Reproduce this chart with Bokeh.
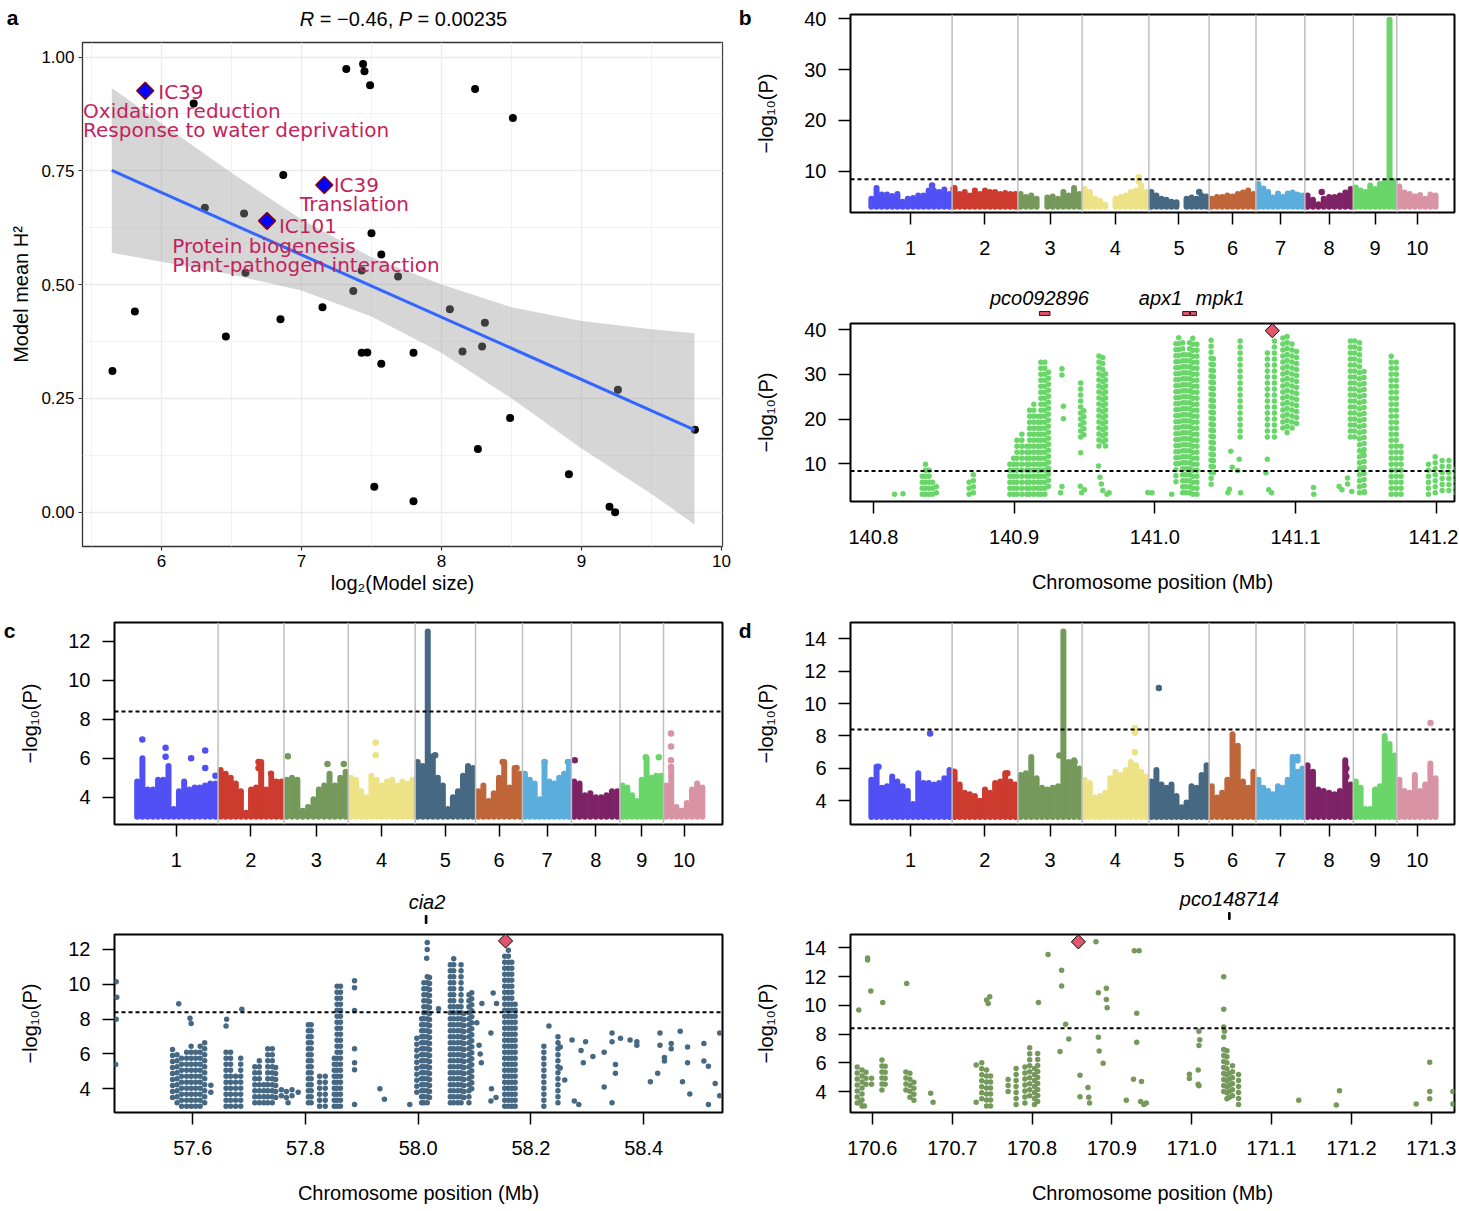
import math
from bokeh.plotting import figure
from bokeh.models import Range1d, FixedTicker, Span, PrintfTickFormatter, LinearAxis
from bokeh.layouts import row, column
from bokeh.embed import file_html
from bokeh.resources import INLINE
from bokeh.core.properties import value

# ======================= DATA =======================
# ---- panel a: model size vs mean heritability
a_log2_size = [7.32, 7.44, 7.45, 7.49, 8.24, 8.51, 6.23, 6.87, 6.31, 6.59,
               7.50, 7.57, 6.60, 7.43, 7.69, 7.37, 5.81, 6.85, 7.15, 6.46,
               8.06, 8.31, 7.43, 7.47, 7.80, 7.57, 8.15, 8.29, 5.65, 9.26,
               8.49, 9.81, 8.26, 8.91, 7.52, 7.80, 9.20, 9.24]
a_h2 = [0.974, 0.985, 0.969, 0.938, 0.930, 0.866, 0.898, 0.741, 0.669, 0.656,
        0.613, 0.566, 0.526, 0.531, 0.518, 0.486, 0.441, 0.424, 0.450, 0.386,
        0.446, 0.416, 0.350, 0.351, 0.350, 0.326, 0.353, 0.364, 0.310, 0.269,
        0.207, 0.181, 0.139, 0.083, 0.056, 0.024, 0.012, 0.000]
hl_size = [5.884, 7.163, 6.754]
hl_h2 = [0.926, 0.719, 0.640]
hl_id = ["IC39", "IC39", "IC101"]
hl_terms = [["Oxidation reduction", "Response to water deprivation"],
            ["Translation"],
            ["Protein biogenesis", "Plant-pathogen interaction"]]
fit_x = [5.645, 9.807]
fit_y = [0.751, 0.181]
band_x = [5.645, 6.0, 6.5, 7.0, 7.5, 8.0, 8.5, 9.0, 9.5, 9.807]
band_lo = [0.570, 0.550, 0.522, 0.487, 0.430, 0.350, 0.250, 0.140, 0.040, -0.027]
band_hi = [0.932, 0.854, 0.746, 0.643, 0.560, 0.500, 0.450, 0.420, 0.402, 0.393]
a_title_parts = ["R", "= \u22120.46,", "P", "= 0.00235"]
a_xticks = [6, 7, 8, 9, 10]
a_xminor = [5.5, 6.5, 7.5, 8.5, 9.5]
a_yticks = [0.0, 0.25, 0.5, 0.75, 1.0]
a_yminor = [0.125, 0.375, 0.625, 0.875]

# ---- genome
chr_names = ["1", "2", "3", "4", "5", "6", "7", "8", "9", "10"]
chr_len = [301.5, 237.9, 232.2, 241.5, 217.9, 169.4, 176.8, 175.4, 157.0, 149.6]
chr_col = ["#5050F5", "#CC3B2E", "#74995A", "#EDE285", "#466883",
           "#BE6639", "#5BAEDB", "#7E2266", "#6AD66A", "#D894A4"]
THRESH = 8.4
BASE = 3.0

# ---- panel b genome-wide (binned upper envelope of -log10 P per chromosome)
b_chr1 = [4.6, 6.7, 5.4, 5.4, 5.1, 5.5, 4.0, 4.6, 4.7, 5.2, 5.2, 6.2, 6.2, 5.9, 6.4, 5.5]
b_chr2 = [6.7, 5.5, 5.9, 5.2, 6.2, 5.5, 6.2, 5.9, 5.9, 5.5, 5.7, 5.5, 5.5]
b_chr3 = [5.5, 4.9, 5.2, 4.6, 0, 4.8, 5.0, 4.6, 5.9, 5.2, 6.7, 5.5]
b_chr4 = [6.5, 5.9, 4.6, 4.2, 3.4, 0, 4.6, 4.9, 5.2, 5.9, 6.2, 7.2, 5.9]
b_chr5 = [5.9, 5.2, 4.6, 4.4, 4.0, 3.9, 0, 4.6, 4.8, 4.6, 5.2, 5.0]
b_chr6 = [4.6, 4.9, 4.9, 5.2, 5.0, 5.5, 5.8, 6.2, 5.5]
b_chr7 = [7.5, 6.6, 5.9, 4.8, 5.6, 4.9, 5.6, 5.8, 5.4, 5.2]
b_chr8 = [5.2, 4.4, 3.5, 4.6, 4.9, 4.9, 5.2, 5.8, 6.5]
b_chr9 = [6.8, 6.2, 5.9, 7.2, 6.5, 7.5, 7.8, 39.8, 8.0]
b_chr10 = [7.0, 5.8, 5.5, 5.0, 5.3, 4.6, 5.4, 5.2]
b_out_chr = [1, 2, 4, 4, 5, 8]
b_out_pos = [229, 5, 205, 205, 182, 61]
b_out_val = [7.2, 6.5, 8.8, 8.0, 5.9, 5.9]

# ---- panel c genome-wide
c_chr1 = [4.8, 6.0, 4.4, 4.4, 4.9, 4.9, 5.6, 3.4, 4.3, 4.8, 4.4, 4.5, 4.5, 4.6, 4.7, 4.7]
c_chr2 = [5.4, 5.2, 5.0, 4.7, 4.3, 3.2, 4.4, 4.5, 5.8, 4.4, 5.0, 4.8, 4.8]
c_chr3 = [4.9, 5.0, 4.9, 3.3, 3.5, 3.9, 4.4, 4.6, 5.2, 4.6, 5.0, 5.3]
c_chr4 = [5.0, 4.9, 4.3, 4.0, 5.1, 4.9, 4.6, 4.8, 4.9, 4.6, 4.8, 4.7, 4.9]
c_chr5 = [5.8, 5.6, 12.5, 6.1, 5.0, 4.6, 3.4, 4.0, 4.3, 5.1, 5.6, 5.5]
c_chr6 = [4.3, 4.6, 3.8, 4.2, 5.0, 5.8, 4.5, 5.5, 5.2]
c_chr7 = [5.2, 4.9, 4.7, 3.9, 5.8, 4.8, 4.7, 5.0, 5.2, 5.8]
c_chr8 = [4.8, 4.7, 4.1, 4.2, 4.0, 4.0, 4.1, 4.3, 4.3]
c_chr9 = [4.6, 4.5, 4.1, 3.8, 4.9, 6.0, 5.0, 5.1, 5.1]
c_chr10 = [4.6, 5.5, 3.5, 3.3, 3.7, 4.4, 4.7, 4.5]
c_out_chr = [1, 1, 1, 1, 1, 1, 1, 2, 2, 2, 3, 3, 3, 4, 4, 5, 6, 6, 7, 7, 8, 9, 9, 10, 10, 10, 10]
c_out_pos = [28, 112, 112, 204, 255, 255, 292, 146, 146, 191, 14, 157, 216, 99, 99, 72,
             98, 148, 80, 164, 12, 93, 140, 27, 27, 27, 27]
c_out_val = [6.96, 6.53, 6.07, 6.0, 6.4, 5.5, 5.1, 5.8, 5.5, 5.2, 6.1, 5.7, 5.7, 6.8, 6.15, 6.15,
             5.8, 5.5, 5.8, 5.8, 5.9, 6.05, 6.05, 7.27, 6.6, 5.9, 5.55]

# ---- panel d genome-wide
d_chr1 = [5.3, 6.1, 4.8, 4.9, 5.5, 5.2, 4.9, 4.6, 3.8, 5.7, 5.1, 5.1, 5.0, 5.1, 5.4, 5.9]
d_chr2 = [5.8, 5.0, 4.5, 4.4, 4.3, 4.0, 4.7, 4.5, 5.1, 5.2, 5.7, 5.2, 5.0]
d_chr3 = [5.6, 5.7, 6.7, 5.4, 4.8, 4.7, 4.8, 4.9, 14.45, 6.4, 6.5, 6.0]
d_chr4 = [5.3, 5.1, 4.2, 4.3, 4.5, 5.4, 5.8, 5.6, 5.9, 6.4, 6.2, 5.8, 5.5]
d_chr5 = [5.2, 5.9, 5.0, 4.8, 5.0, 4.3, 3.6, 3.9, 4.9, 4.8, 5.6, 6.2]
d_chr6 = [4.9, 4.2, 4.5, 5.3, 8.1, 7.4, 5.2, 4.8, 5.8]
d_chr7 = [5.3, 4.8, 4.6, 4.4, 4.9, 4.8, 5.3, 6.7, 5.8, 6.0]
d_chr8 = [6.2, 5.8, 4.7, 4.6, 4.5, 4.4, 4.6, 6.5, 5.0]
d_chr9 = [5.2, 4.8, 3.5, 3.5, 4.7, 4.9, 8.0, 7.5, 6.8]
d_chr10 = [5.3, 4.6, 4.5, 5.6, 4.6, 5.0, 6.3, 5.4]
d_out_chr = [1, 1, 2, 2, 3, 3, 4, 4, 4, 5, 7, 7, 8, 8, 10]
d_out_pos = [222, 35, 5, 200, 150, 205, 191, 191, 191, 36, 150, 150, 150, 150, 122]
d_out_val = [8.15, 6.1, 5.8, 5.7, 6.8, 6.4, 8.5, 8.2, 7.0, 10.96, 6.7, 6.5, 6.0, 5.5, 8.8]

# ---- regional plots: dense SNP columns (pos Mb, low, high) and single SNPs (pos Mb, value)
b_cols = [(140.8347, 3.2, 8.5), (140.8370, 3.2, 10.3), (140.8395, 3.2, 9.5), (140.8420, 3.2, 7.0),
          (140.8447, 3.5, 6.0), (140.8680, 3.2, 6.5), (140.8710, 3.5, 8.2),
          (140.8970, 3.2, 10.0), (140.8996, 3.2, 12.6), (140.9020, 3.2, 16.6), (140.9055, 3.2, 16.8),
          (140.9090, 3.2, 15.0), (140.9110, 3.2, 22.2), (140.9140, 3.2, 24.0), (140.9170, 3.2, 21.8),
          (140.9190, 3.2, 33.4), (140.9218, 3.2, 33.5), (140.9244, 5.0, 31.0),
          (140.9473, 16.0, 28.3), (140.9496, 16.5, 23.0),
          (140.9603, 14.0, 35.0), (140.9630, 15.0, 34.0), (140.9650, 14.0, 31.0),
          (141.0150, 6.0, 37.5), (141.0170, 10.0, 38.5), (141.0198, 3.5, 38.0), (141.0220, 3.5, 35.0),
          (141.0247, 3.5, 38.0), (141.0270, 3.2, 38.5), (141.0299, 3.2, 37.0),
          (141.0400, 5.4, 38.3), (141.0416, 8.0, 34.0), (141.0606, 16.0, 38.6),
          (141.0800, 16.0, 36.0), (141.0850, 16.0, 38.0),
          (141.0910, 18.0, 39.0), (141.0940, 17.0, 38.5), (141.0975, 18.0, 38.0), (141.1007, 19.0, 36.0),
          (141.1390, 16.0, 38.5), (141.1420, 16.0, 38.0), (141.1455, 3.5, 38.0), (141.1487, 3.8, 31.0),
          (141.1680, 3.2, 34.6), (141.1716, 3.2, 34.0), (141.1750, 3.2, 14.0),
          (141.1945, 3.2, 11.0), (141.1993, 3.5, 11.9), (141.2042, 4.0, 12.0), (141.2090, 4.0, 11.0),
          (141.2140, 3.5, 10.0)]
b_pts = [(140.815, 3.2), (140.821, 3.3), (140.934, 31.3), (140.934, 29.9), (140.935, 22.9),
         (140.935, 20.1), (140.934, 4.9), (140.933, 3.5), (140.9473, 12.5), (140.947, 5.0),
         (140.948, 3.5), (140.950, 4.2), (140.960, 9.5), (140.961, 7.0), (140.962, 5.5),
         (140.963, 4.0), (140.9675, 3.5), (140.966, 3.2), (140.995, 3.6), (140.998, 3.5),
         (141.012, 3.2), (141.054, 12.8), (141.055, 9.2), (141.053, 4.3), (141.052, 3.5),
         (141.060, 11.0), (141.059, 8.5), (141.061, 3.5), (141.080, 11.0), (141.081, 4.2),
         (141.083, 3.5), (141.079, 8.0), (141.1128, 4.7), (141.113, 3.2), (141.131, 4.9),
         (141.133, 4.2), (141.137, 6.8), (141.137, 5.5), (141.140, 3.8), (141.148, 12.5),
         (141.146, 9.0), (141.149, 3.6)]
b_lead = (141.0835, 39.8)
b_gene_name = ["pco092896", "apx1", "mpk1"]
b_gene_start = [140.918, 141.0198, 141.0253]
b_gene_end = [140.9255, 141.0247, 141.0296]

c_cols = [(57.564, 3.5, 6.3), (57.572, 3.2, 6.2), (57.580, 3.0, 6.0), (57.589, 3.0, 6.3),
          (57.597, 3.0, 6.5), (57.605, 3.0, 6.2), (57.613, 3.0, 6.5), (57.621, 3.2, 6.8),
          (57.659, 3.0, 6.3), (57.667, 3.0, 6.4), (57.676, 3.0, 5.0), (57.685, 3.0, 5.9),
          (57.710, 3.2, 5.5), (57.718, 3.2, 5.8), (57.726, 3.2, 4.5), (57.733, 3.2, 6.4),
          (57.741, 3.2, 6.6), (57.747, 3.5, 5.5), (57.757, 3.6, 4.1), (57.766, 3.5, 4.0),
          (57.776, 3.6, 4.1), (57.805, 3.2, 7.9), (57.810, 3.2, 7.7), (57.825, 3.0, 5.0),
          (57.835, 3.0, 4.8), (57.851, 3.0, 6.1), (57.856, 3.0, 10.0), (57.862, 3.0, 9.9),
          (57.9975, 3.8, 7.0), (58.006, 3.2, 8.3), (58.010, 3.2, 10.3), (58.016, 3.2, 10.7),
          (58.020, 3.5, 10.5), (58.057, 3.2, 11.2), (58.063, 3.2, 11.6), (58.070, 3.2, 9.0),
          (58.076, 3.2, 11.3), (58.081, 3.5, 8.5), (58.090, 3.2, 9.7), (58.095, 4.0, 9.7),
          (58.1535, 3.0, 11.8), (58.160, 3.0, 12.1), (58.166, 3.0, 11.5), (58.172, 3.0, 9.0),
          (58.223, 3.0, 6.5), (58.248, 3.2, 7.0)]
c_pts = [(57.464, 10.15), (57.465, 9.26), (57.464, 8.0), (57.463, 5.4), (57.575, 8.88),
         (57.595, 8.05), (57.597, 7.75), (57.632, 4.2), (57.632, 3.8), (57.659, 7.6),
         (57.660, 8.0), (57.687, 8.57), (57.769, 3.2), (57.787, 3.8), (57.887, 10.2),
         (57.887, 9.8), (57.887, 8.5), (57.887, 6.3), (57.887, 5.5), (57.887, 5.1),
         (57.887, 3.1), (57.932, 4.0), (57.940, 3.4), (57.985, 3.1), (58.016, 12.4),
         (58.016, 12.0), (58.015, 11.5), (58.036, 8.6), (58.104, 7.8), (58.108, 6.5),
         (58.112, 5.5), (58.113, 8.9), (58.110, 6.0), (58.129, 7.2), (58.130, 4.0),
         (58.129, 3.3), (58.133, 9.5), (58.139, 8.9), (58.138, 3.5), (58.232, 7.6),
         (58.252, 6.4), (58.252, 5.2), (58.260, 4.5), (58.273, 6.8), (58.277, 3.3),
         (58.285, 3.1), (58.289, 6.2), (58.293, 5.5), (58.297, 6.7), (58.310, 5.85),
         (58.330, 6.1), (58.330, 4.1), (58.344, 7.2), (58.344, 6.7), (58.344, 3.2),
         (58.350, 5.4), (58.350, 4.9), (58.359, 6.9), (58.376, 6.8), (58.388, 6.7),
         (58.388, 6.5), (58.412, 4.4), (58.425, 4.9), (58.429, 7.2), (58.429, 6.5),
         (58.437, 5.8), (58.437, 5.6), (58.449, 6.6), (58.449, 6.3), (58.465, 7.3),
         (58.469, 4.4), (58.478, 6.4), (58.478, 5.5), (58.482, 3.7), (58.507, 6.6),
         (58.507, 5.6), (58.515, 5.3), (58.515, 3.1), (58.527, 4.3), (58.535, 7.2),
         (58.535, 3.6)]
c_lead = (58.155, 12.49)
c_gene_name = ["cia2"]
c_gene_start = [58.0125]
c_gene_end = [58.0155]

d_cols = [(170.581, 3.2, 5.9), (170.587, 3.0, 5.6), (170.592, 4.5, 5.7), (170.599, 4.5, 5.3),
          (170.612, 4.1, 6.4), (170.616, 4.5, 6.0), (170.642, 4.1, 5.5), (170.647, 3.6, 5.3),
          (170.652, 3.4, 5.0), (170.737, 3.5, 6.2), (170.743, 3.0, 5.7), (170.748, 3.0, 5.3),
          (170.770, 4.0, 5.0), (170.780, 3.1, 5.8), (170.791, 3.2, 5.8), (170.797, 3.7, 7.1),
          (170.803, 3.1, 5.8), (170.807, 3.3, 6.8), (171.040, 4.0, 7.3), (171.044, 3.5, 7.2),
          (171.047, 3.6, 5.4), (171.051, 3.7, 6.0), (171.0586, 3.1, 5.2)]
d_pts = [(170.583, 9.67), (170.594, 13.3), (170.594, 13.15), (170.598, 10.99), (170.613, 10.2),
         (170.643, 11.52), (170.585, 3.3), (170.590, 3.0), (170.673, 3.88), (170.676, 3.26),
         (170.730, 5.85), (170.730, 3.26), (170.743, 10.37), (170.747, 10.6), (170.745, 10.13),
         (170.808, 10.2), (170.820, 13.54), (170.835, 6.78), (170.837, 12.45), (170.837, 11.34),
         (170.842, 8.68), (170.846, 7.66), (170.860, 5.13), (170.860, 3.63), (170.870, 4.28),
         (170.871, 3.6), (170.872, 3.2), (170.880, 14.42), (170.883, 10.87), (170.883, 7.77),
         (170.884, 6.82), (170.893, 11.18), (170.893, 10.4), (170.894, 9.83), (170.889, 5.97),
         (170.918, 3.4), (170.927, 4.85), (170.928, 13.8), (170.934, 13.8), (170.931, 9.44),
         (170.931, 7.43), (170.937, 4.7), (170.936, 3.3), (170.940, 3.1), (170.943, 3.2),
         (170.997, 5.2), (170.997, 4.9), (171.008, 5.5), (171.008, 4.5), (171.009, 4.4),
         (171.009, 8.2), (171.010, 7.6), (171.009, 7.2), (171.040, 11.99), (171.040, 9.72),
         (171.040, 8.5), (171.041, 8.2), (171.040, 7.8), (171.134, 3.4), (171.181, 3.07),
         (171.185, 4.05), (171.281, 3.14), (171.298, 6.04), (171.298, 4.0), (171.298, 3.5),
         (171.327, 4.0), (171.327, 3.14)]
d_lead = (170.858, 14.42)
d_gene_name = ["pco148714"]
d_gene_start = [171.046]
d_gene_end = [171.048]

# ======================= STYLE / LAYOUT =======================
SANS = "Liberation Sans"
TERM_FONT = "DejaVu Sans"
TERM_COL = "#C51F5D"
YLAB = "\u2212log\u2081\u2080(P)"
XLAB = "Chromosome position (Mb)"

chr_start = [0.0]
for L in chr_len[:-1]:
    chr_start.append(chr_start[-1] + L)
chr_mid = [int(round(s + L / 2)) for s, L in zip(chr_start, chr_len)]


def make_fig(w, h, left, top, fw, fh, xr, yr, **kw):
    p = figure(width=w, height=h, x_range=xr, y_range=yr,
               min_border_left=left, min_border_right=w - left - fw,
               min_border_top=top, min_border_bottom=h - top - fh,
               output_backend="svg", toolbar_location=None, title=None, **kw)
    p.background_fill_color = "white"
    p.border_fill_color = "white"
    return p


def letter_axis(ax, standoff):
    ax.axis_line_color = None
    ax.major_tick_line_color = None
    ax.minor_tick_line_color = None
    ax.major_tick_in = 0
    ax.major_tick_out = 0
    ax.major_label_standoff = standoff
    ax.major_label_text_font = SANS
    ax.major_label_text_font_size = "21px"
    ax.major_label_text_font_style = "bold"
    ax.major_label_text_color = "black"


def add_letter(p, letter, yval):
    ax = LinearAxis(ticker=FixedTicker(ticks=[yval]), major_label_overrides={yval: letter})
    letter_axis(ax, 1)
    p.add_layout(ax, "left")


def r_axes(p, xlabel, title_standoff):
    p.xgrid.visible = False
    p.ygrid.visible = False
    p.outline_line_color = "black"
    p.outline_line_width = 2
    for ax in (p.xaxis[0], p.yaxis[0]):
        ax.axis_line_color = None
        ax.major_tick_line_color = "black"
        ax.major_tick_line_width = 1.5
        ax.major_tick_in = 0
        ax.major_tick_out = 12
        ax.minor_tick_line_color = None
        ax.major_label_text_font = SANS
        ax.major_label_text_font_size = "20px"
        ax.major_label_text_color = "black"
        ax.axis_label_text_font = SANS
        ax.axis_label_text_font_size = "20px"
        ax.axis_label_text_font_style = "normal"
        ax.axis_label_text_color = "black"
    p.xaxis[0].major_label_standoff = 16
    p.yaxis[0].major_label_standoff = 12
    p.yaxis[0].axis_label = YLAB
    p.yaxis[0].axis_label_standoff = 24
    if xlabel:
        p.xaxis[0].axis_label = xlabel
        p.xaxis[0].axis_label_standoff = title_standoff


def manhattan(w, h, left, top, fw, fh, xr, yr, yticks, bins, o_chr, o_pos, o_val):
    p = make_fig(w, h, left, top, fw, fh, Range1d(*xr), Range1d(*yr))
    r_axes(p, None, 0)
    p.yaxis[0].ticker = FixedTicker(ticks=yticks)
    p.xaxis[0].ticker = FixedTicker(ticks=chr_mid)
    p.xaxis[0].major_label_overrides = {m: n for m, n in zip(chr_mid, chr_names)}
    for c, heights in enumerate(bins):
        n = len(heights)
        xs = [chr_start[c] + (i + 0.5) * chr_len[c] / n for i in range(n)]
        keep = [(x, hh) for x, hh in zip(xs, heights) if hh > BASE]
        p.segment(x0=[k[0] for k in keep], y0=[BASE] * len(keep),
                  x1=[k[0] for k in keep], y1=[k[1] for k in keep],
                  line_color=chr_col[c], line_width=6, line_cap="round")
    ox = [chr_start[c - 1] + pos for c, pos in zip(o_chr, o_pos)]
    p.scatter(x=ox, y=o_val, size=6.5, fill_color=[chr_col[c - 1] for c in o_chr],
              line_color=None)
    for s in chr_start[1:]:
        p.add_layout(Span(location=s, dimension="height", line_color="#BEBEBE", line_width=1.5))
    p.add_layout(Span(location=THRESH, dimension="width", line_color="black",
                      line_width=2, line_dash="4 3"))
    return p


def regional(w, h, left, top, fw, fh, xr, yr, xticks, yticks, cols, pts, lead, color, standoff):
    p = make_fig(w, h, left, top, fw, fh, xr, Range1d(*yr))
    r_axes(p, XLAB, standoff)
    p.xaxis[0].ticker = FixedTicker(ticks=xticks)
    p.xaxis[0].formatter = PrintfTickFormatter(format="%.1f")
    p.yaxis[0].ticker = FixedTicker(ticks=yticks)
    p.segment(x0=[c[0] for c in cols], y0=[c[1] for c in cols],
              x1=[c[0] for c in cols], y1=[c[2] for c in cols],
              line_color=color, line_width=5.5, line_cap="round", line_dash="0 6")
    p.scatter(x=[q[0] for q in pts], y=[q[1] for q in pts], size=5.5,
              fill_color=color, line_color=None)
    p.add_layout(Span(location=THRESH, dimension="width", line_color="black",
                      line_width=2, line_dash="4 3"))
    p.scatter(x=[lead[0]], y=[lead[1]], marker="square", angle=math.pi / 4, size=10,
              fill_color="#E2566C", line_color="black", line_width=1)
    return p


def gene_track(w, h, left, fw, xr, names, starts, ends, label_x, ty, r0, r1, fill, line):
    p = figure(width=w, height=h, x_range=xr, y_range=Range1d(h, 0),
               min_border_left=left, min_border_right=w - left - fw,
               min_border_top=0, min_border_bottom=0,
               x_axis_location=None, y_axis_location=None,
               output_backend="svg", toolbar_location=None, title=None)
    p.outline_line_color = None
    p.xgrid.visible = False
    p.ygrid.visible = False
    n = len(names)
    p.quad(left=starts, right=ends, top=[r0] * n, bottom=[r1] * n,
           fill_color=fill, line_color=line, line_width=1)
    p.text(x=label_x, y=[ty] * n, text=names, text_font=value(SANS),
           text_font_style="italic", text_font_size="20px", text_align="center",
           text_baseline="middle", text_color="black")
    return p


# ---------------- panel a ----------------
A_W, A_L, A_FW, A_FH = 735, 82, 640, 504
A_STRIP = 41
# header strip: frame aligned with panel a frame; x data = page pixels
sa = figure(width=A_W, height=A_STRIP, x_range=Range1d(A_L, A_L + A_FW), y_range=Range1d(A_STRIP, 0),
            min_border_left=A_L, min_border_right=A_W - A_L - A_FW,
            min_border_top=0, min_border_bottom=0, x_axis_location=None,
            output_backend="svg", toolbar_location=None, title=None)
sa.outline_line_color = None
sa.xgrid.visible = False
sa.ygrid.visible = False
sa.yaxis[0].ticker = FixedTicker(ticks=[17])
sa.yaxis[0].major_label_overrides = {17: "a"}
letter_axis(sa.yaxis[0], 64)
title_x = [299.3, 319.3, 398.3, 417.1]
title_style = ["italic", "normal", "italic", "normal"]
for tx0, part, st in zip(title_x, a_title_parts, title_style):
    sa.text(x=[tx0], y=[18], text=[part], text_font=value(SANS), text_font_size="20px",
            text_font_style=st, text_align="left", text_baseline="middle", text_color="black")

pa = make_fig(A_W, 612 - A_STRIP, A_L, 1, A_FW, A_FH, Range1d(5.436, 10.007), Range1d(-0.0755, 1.032))
pa.outline_line_color = "#333333"
pa.outline_line_width = 1.3
xt = FixedTicker(ticks=a_xticks, minor_ticks=a_xminor)
yt = FixedTicker(ticks=a_yticks, minor_ticks=a_yminor)
pa.xaxis[0].ticker = xt
pa.yaxis[0].ticker = yt
pa.xgrid[0].ticker = xt
pa.ygrid[0].ticker = yt
for g in (pa.xgrid[0], pa.ygrid[0]):
    g.grid_line_color = "#EBEBEB"
    g.grid_line_width = 1.3
    g.minor_grid_line_color = "#EFEFEF"
    g.minor_grid_line_width = 0.8
pa.yaxis[0].formatter = PrintfTickFormatter(format="%.2f")
for ax in (pa.xaxis[0], pa.yaxis[0]):
    ax.axis_line_color = None
    ax.major_tick_line_color = "#333333"
    ax.major_tick_line_width = 1.2
    ax.major_tick_in = 0
    ax.major_tick_out = 4
    ax.minor_tick_line_color = None
    ax.major_label_text_font = SANS
    ax.major_label_text_font_size = "17px"
    ax.major_label_text_color = "black"
    ax.major_label_standoff = 4
    ax.axis_label_text_font = SANS
    ax.axis_label_text_font_size = "20px"
    ax.axis_label_text_font_style = "normal"
    ax.axis_label_text_color = "black"
pa.xaxis[0].axis_label = "log\u2082(Model size)"
pa.xaxis[0].axis_label_standoff = 2
pa.yaxis[0].axis_label = "Model mean H\u00b2"
pa.yaxis[0].axis_label_standoff = 6

pa.scatter(x=a_log2_size, y=a_h2, size=8, fill_color="black", line_color=None)
pa.varea(x=band_x, y1=band_lo, y2=band_hi, fill_color="#999999", fill_alpha=0.4)
pa.line(x=fit_x, y=fit_y, line_color="#3366FF", line_width=3)
pa.scatter(x=hl_size, y=hl_h2, marker="square", angle=math.pi / 4, size=12,
           fill_color="#0000FF", line_color="#8B0000", line_width=1.5)

# annotation text placement (data units of panel a)
term_pos = [[(5.977, 0.924), (5.440, 0.881), (5.440, 0.839)],
            [(7.230, 0.719), (6.989, 0.678)],
            [(6.839, 0.628), (6.077, 0.584), (6.077, 0.542)]]
tx, ty, tt = [], [], []
for ident, terms, pos in zip(hl_id, hl_terms, term_pos):
    for s, (x, y) in zip([ident] + terms, pos):
        tx.append(x)
        ty.append(y)
        tt.append(s)
pa.text(x=tx, y=ty, text=tt, text_font=value(TERM_FONT), text_font_size="20px",
        text_color=TERM_COL, text_align="left", text_baseline="middle")

# ---------------- geometry of the other columns ----------------
R_W, R_L, R_FW = 723, 110, 609
L_W, L_L, L_FW = 735, 110, 612

# panel b
pbm = manhattan(R_W, 280, R_L, 14, R_FW, 198, (-66, 2118.4), (1.87, 40.85), [10, 20, 30, 40],
                [b_chr1, b_chr2, b_chr3, b_chr4, b_chr5, b_chr6, b_chr7, b_chr8, b_chr9, b_chr10],
                b_out_chr, b_out_pos, b_out_val)
add_letter(pbm, "b", 40.26)
b_xr = Range1d(140.7837, 141.213)
pbg = gene_track(R_W, 38, R_L, R_FW, b_xr, b_gene_name, b_gene_start, b_gene_end,
                 [140.918, 141.004, 141.0465], 17, 31, 35, "#D9546A", "#3A1018")
pbr = regional(R_W, 294, R_L, 5, R_FW, 178, b_xr, (1.56, 41.41),
               [140.8, 140.9, 141.0, 141.1, 141.2], [10, 20, 30, 40],
               b_cols, b_pts, b_lead, chr_col[8], 24)

# panel c
pcm = manhattan(L_W, 276, L_L, 10, L_FW, 202, (-72.5, 2122.6), (2.6, 12.96), [4, 6, 8, 10, 12],
                [c_chr1, c_chr2, c_chr3, c_chr4, c_chr5, c_chr6, c_chr7, c_chr8, c_chr9, c_chr10],
                c_out_chr, c_out_pos, c_out_val)
add_letter(pcm, "c", 12.55)
c_xr = Range1d(57.461, 58.54)
pcg = gene_track(L_W, 38, L_L, L_FW, c_xr, c_gene_name, c_gene_start, c_gene_end,
                 [58.0156], 13, 27, 35, "black", "black")
pcr = regional(L_W, 284, L_L, 8, L_FW, 178, c_xr, (2.64, 12.86),
               [57.6, 57.8, 58.0, 58.2, 58.4], [4, 6, 8, 10, 12],
               c_cols, c_pts, c_lead, chr_col[4], 24)

# panel d
pdm = manhattan(R_W, 276, R_L, 10, R_FW, 202, (-66, 2118.4), (2.54, 15.0), [4, 6, 8, 10, 12, 14],
                [d_chr1, d_chr2, d_chr3, d_chr4, d_chr5, d_chr6, d_chr7, d_chr8, d_chr9, d_chr10],
                d_out_chr, d_out_pos, d_out_val)
add_letter(pdm, "d", 14.51)
d_xr = Range1d(170.5726, 171.329)
pdg = gene_track(R_W, 38, R_L, R_FW, d_xr, d_gene_name, d_gene_start, d_gene_end,
                 [171.047], 10, 24, 31, "black", "black")
pdr = regional(R_W, 284, R_L, 8, R_FW, 178, d_xr, (2.54, 14.93),
               [170.6, 170.7, 170.8, 170.9, 171.0, 171.1, 171.2, 171.3], [4, 6, 8, 10, 12, 14],
               d_cols, d_pts, d_lead, chr_col[2], 24)

layout = column(row(column(sa, pa), column(pbm, pbg, pbr)),
                row(column(pcm, pcg, pcr), column(pdm, pdg, pdr)))

open("out.html", "w").write(file_html(layout, INLINE, title="GWAS figure"))
